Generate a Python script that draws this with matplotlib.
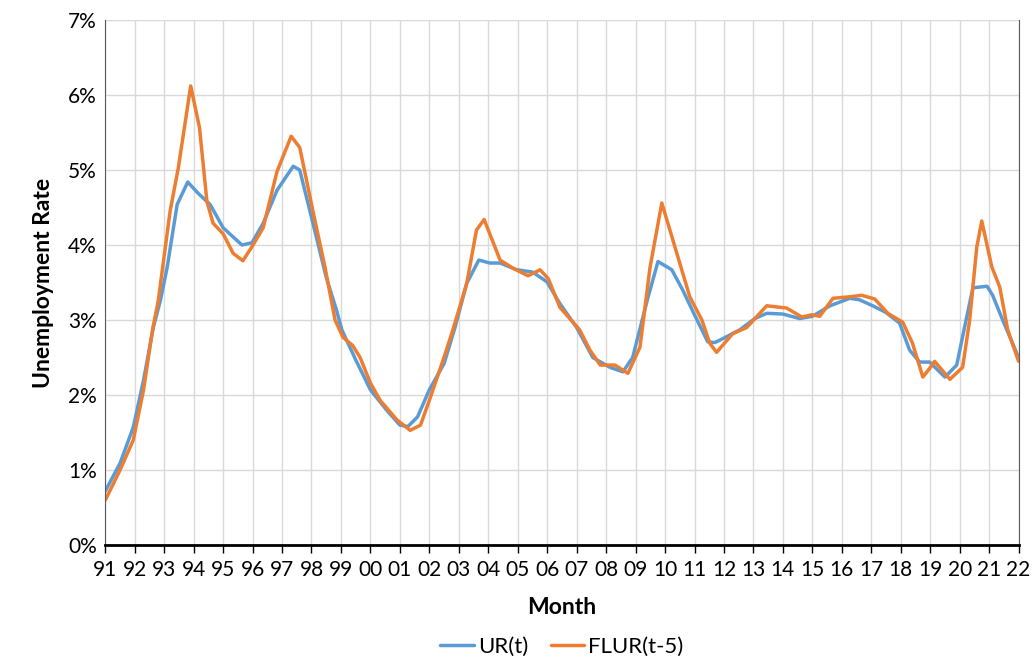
import matplotlib
matplotlib.use("Agg")
import matplotlib.pyplot as plt
from matplotlib.ticker import PercentFormatter

# years since Jan 1991, unemployment rate in %
ur_t = [0.0, 0.5, 0.95, 1.3, 1.63, 1.87, 2.1, 2.44, 2.8, 3.15, 3.56, 4.0, 4.64, 4.98,
        5.36, 5.83, 6.38, 6.6, 7.05, 7.5, 7.85, 8.03, 8.5, 9.0, 9.55, 10.0, 10.27,
        10.6, 11.0, 11.5, 11.87, 12.27, 12.68, 13.05, 13.4, 13.97, 14.5, 14.99,
        15.43, 16.0, 16.55, 17.13, 17.57, 17.9, 18.4, 18.76, 19.23, 19.6, 20.0,
        20.45, 20.69, 21.0, 21.54, 22.05, 22.45, 23.0, 23.57, 24.0, 24.6, 25.27,
        25.6, 26.05, 26.5, 26.96, 27.3, 27.64, 27.98, 28.5, 28.9, 29.17, 29.45,
        29.93, 30.12, 30.46, 31.0]
ur_v = [0.72, 1.09, 1.57, 2.2, 2.9, 3.26, 3.7, 4.54, 4.84, 4.69, 4.54, 4.23, 4.0, 4.03,
        4.29, 4.73, 5.05, 5.0, 4.29, 3.57, 3.13, 2.87, 2.47, 2.07, 1.8, 1.6, 1.58,
        1.71, 2.07, 2.42, 2.9, 3.49, 3.8, 3.76, 3.76, 3.67, 3.64, 3.51,
        3.22, 2.9, 2.5, 2.37, 2.31, 2.5, 3.27, 3.78, 3.67, 3.4, 3.07,
        2.71, 2.7, 2.76, 2.87, 3.02, 3.09, 3.08, 3.02, 3.05, 3.19, 3.29,
        3.27, 3.19, 3.1, 2.96, 2.6, 2.44, 2.44, 2.24, 2.4, 2.91, 3.43,
        3.45, 3.33, 3.0, 2.5]

flur_t = [0.0, 0.5, 0.95, 1.3, 1.6, 1.8, 2.2, 2.48, 2.9, 3.2, 3.45, 3.66, 4.0, 4.34,
          4.67, 5.0, 5.36, 5.83, 6.31, 6.6, 7.05, 7.46, 7.8, 8.07, 8.4, 8.65, 9.0,
          9.33, 9.9, 10.35, 10.7, 11.0, 11.47, 11.8, 12.27, 12.6, 12.86, 13.1,
          13.4, 13.84, 14.35, 14.76, 15.04, 15.43, 16.1, 16.45, 16.8, 17.3, 17.74,
          18.15, 18.49, 18.89, 19.4, 19.84, 20.25, 20.52, 20.75, 21.3, 21.77,
          22.45, 23.13, 23.64, 23.98, 24.25, 24.7, 25.27, 25.68, 26.12, 26.56,
          27.07, 27.4, 27.75, 27.99, 28.15, 28.67, 29.1, 29.34, 29.58, 29.75,
          30.09, 30.36, 30.63, 31.0]
flur_v = [0.6, 1.0, 1.4, 2.07, 2.86, 3.26, 4.45, 5.03, 6.12, 5.56, 4.58, 4.29, 4.15, 3.89,
          3.79, 3.99, 4.23, 4.98, 5.45, 5.3, 4.45, 3.7, 3.0, 2.77, 2.66, 2.5, 2.16,
          1.93, 1.67, 1.53, 1.6, 1.93, 2.47, 2.87, 3.49, 4.2, 4.34, 4.1,
          3.8, 3.69, 3.59, 3.67, 3.55, 3.17, 2.87, 2.6, 2.4, 2.4, 2.29,
          2.64, 3.7, 4.56, 3.89, 3.31, 3.0, 2.69, 2.57, 2.82, 2.9,
          3.19, 3.16, 3.04, 3.07, 3.05, 3.29, 3.31, 3.33, 3.28, 3.09,
          2.97, 2.69, 2.24, 2.36, 2.45, 2.21, 2.37, 3.0, 3.97, 4.32,
          3.71, 3.44, 2.87, 2.45]

year_labels = ["91", "92", "93", "94", "95", "96", "97", "98", "99", "00", "01",
               "02", "03", "04", "05", "06", "07", "08", "09", "10", "11", "12",
               "13", "14", "15", "16", "17", "18", "19", "20", "21", "22"]

plt.rcParams["font.family"] = ["Lato", "DejaVu Sans"]

fig = plt.figure(figsize=(10.32, 6.64), dpi=100)
ax = fig.add_axes([0.102, 0.179, 0.885, 0.791])

ax.plot(ur_t, ur_v, color="#5B9BD5", lw=2.5, label="UR(t)",
        solid_capstyle="round", solid_joinstyle="round")
ax.plot(flur_t, flur_v, color="#ED7D31", lw=2.5, label="FLUR(t-5)",
        solid_capstyle="round", solid_joinstyle="round")

ax.set_xlim(0, len(year_labels) - 1)
ax.set_ylim(0, 7)
ax.set_xticks(range(len(year_labels)))
ax.set_xticklabels(year_labels)
ax.set_yticks(range(0, 8))
ax.yaxis.set_major_formatter(PercentFormatter(decimals=0))
ax.grid(True, color="#D9D9D9", lw=1)
ax.set_axisbelow(True)

ax.spines["top"].set_visible(False)
ax.spines["left"].set_color("#595959")
ax.spines["right"].set_color("#595959")
ax.spines["bottom"].set_color("black")
ax.spines["bottom"].set_linewidth(2)
ax.tick_params(axis="y", length=0, labelsize=15, pad=6)
ax.tick_params(axis="x", length=6, width=1, color="black", labelsize=15, pad=5, direction="out")

ax.set_xlabel("Month", fontsize=16.5, fontweight="bold", labelpad=12)
ax.set_ylabel("Unemployment Rate", fontsize=16.5, fontweight="bold", labelpad=10)

ax.legend(loc="center", bbox_to_anchor=(0.5, -0.193), ncol=2, frameon=False,
          fontsize=16, handlelength=1.5, handletextpad=0.2, columnspacing=1.0,
          borderpad=0.1)

fig.savefig("out.png", dpi=100)
